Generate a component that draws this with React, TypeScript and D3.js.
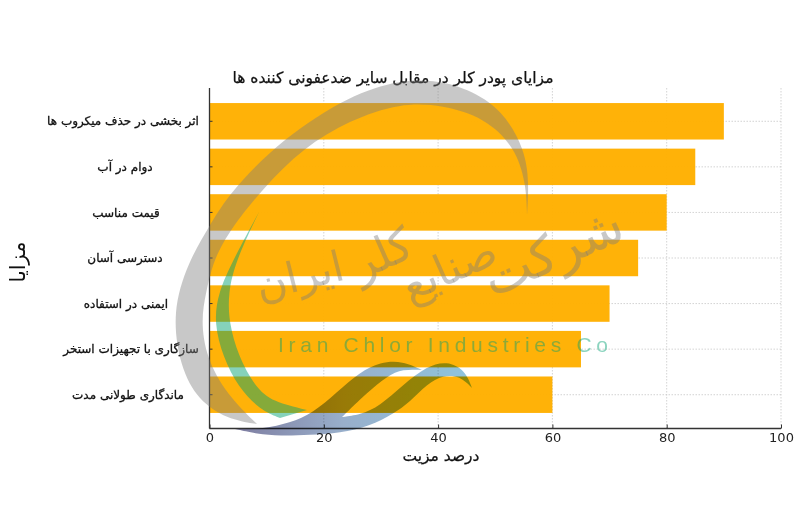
import { useEffect, useRef } from "react";
import * as d3 from "d3";

const categories = [
  "اثر بخشی در حذف میکروب ها",
  "دوام در آب",
  "قیمت مناسب",
  "دسترسی آسان",
  "ایمنی در استفاده",
  "سازگاری با تجهیزات استخر",
  "ماندگاری طولانی مدت",
];
const values = [90, 85, 80, 75, 70, 65, 60];
const xTicks = [0, 20, 40, 60, 80, 100];

const chartTitle = "مزایای پودر کلر در مقابل سایر ضدعفونی کننده ها";
const xTitle = "درصد مزیت";
const yTitle = "مزایا";
const watermarkLatin = "Iran Chlor Industries Co";

type Pt = [number, number];

// logo outlines (page pixels)
const greyOuter: Pt[] = [
  [527, 215], [529, 183], [525, 150], [503, 110], [467, 88], [433, 80], [400, 80], [350, 95],
  [283, 138], [230, 192], [210, 225], [188, 262], [172, 312], [180, 367], [198, 400], [227, 419], [257, 424],
];
const greyInner: Pt[] = [
  [257, 424], [227, 395], [206, 357], [201, 320], [206, 293], [212, 265], [226, 235], [263, 188],
  [303, 148], [350, 120], [400, 103], [443, 105], [485, 118], [515, 147], [526, 183], [527, 215],
];
const greenOuter: Pt[] = [
  [259, 212], [233, 260], [218, 293], [214, 323], [223, 357], [238, 387], [260, 410], [280, 418],
];
const greenInner: Pt[] = [
  [307, 410], [273, 402], [255, 387], [238, 355], [229, 323], [228, 293], [236, 260], [259, 212],
];
const waveATop: Pt[] = [
  [235, 429], [263, 429], [290, 423], [313, 413], [337, 392], [360, 372], [380, 362], [403, 361], [422, 370],
];
const waveABottom: Pt[] = [
  [422, 370], [403, 369], [387, 376], [367, 393], [347, 412], [342, 417],
];
const waveBTop: Pt[] = [
  [342, 417], [360, 415], [380, 406], [403, 385], [427, 366], [447, 361], [465, 370], [472, 388],
];
const waveBBottom: Pt[] = [
  [472, 388], [460, 376], [443, 375], [427, 384], [410, 402], [393, 414], [370, 426], [340, 433], [310, 435], [280, 436], [257, 434], [235, 429],
];

const sans = "'DejaVu Sans', sans-serif";

export default function App() {
  const svgRef = useRef<SVGSVGElement>(null);

  useEffect(() => {
    if (!svgRef.current) return;
    const svg = d3.select(svgRef.current);
    svg.selectAll("*").remove();

    const left = 209.5;
    const right = 781;
    const top = 88;
    const bottom = 428.5;
    const labelNudge = [-3, -1, 0, -1, 0, 5, 2];

    const x = d3.scaleLinear().domain([0, 100]).range([left, right]);
    const y = d3.scaleBand<string>().domain(categories).range([98.5, 417.5]).padding(0.2).paddingOuter(0.1);
    const yMid = (c: string) => (y(c) as number) + y.bandwidth() / 2;

    // Grid
    const grid = svg.append("g").attr("stroke", "#c8c8c8").attr("stroke-width", 0.8).attr("stroke-dasharray", "1.5 1.5");
    grid.selectAll("line.v").data(xTicks).enter().append("line")
      .attr("x1", (d) => x(d)).attr("x2", (d) => x(d)).attr("y1", top).attr("y2", bottom);
    grid.selectAll("line.h").data(categories).enter().append("line")
      .attr("x1", left).attr("x2", right).attr("y1", yMid).attr("y2", yMid);

    // Bars
    svg.append("g").selectAll("rect").data(categories).enter().append("rect")
      .attr("x", left)
      .attr("y", (c) => y(c) as number)
      .attr("width", (_, i) => x(values[i]) - left)
      .attr("height", y.bandwidth())
      .attr("fill", "#ffb000")
      .attr("fill-opacity", 0.97);

    // Axes
    const xAxis = svg.append("g").attr("transform", `translate(0,${bottom})`)
      .call(d3.axisBottom(x).tickValues(xTicks).tickSize(-4).tickPadding(4).tickFormat((d) => String(d)));
    xAxis.selectAll("text").attr("font-family", sans).attr("font-size", 13).attr("fill", "#222");
    xAxis.selectAll("line").attr("stroke", "#333").attr("stroke-width", 1);
    xAxis.select(".domain").attr("stroke", "#333").attr("stroke-width", 1.3).attr("d", `M${left},0H${right}`);

    const yAxis = svg.append("g").attr("transform", `translate(${left},0)`)
      .call(d3.axisLeft(y).tickSize(-3).tickFormat(() => ""));
    yAxis.selectAll("line").attr("stroke", "#333").attr("stroke-width", 1);
    yAxis.select(".domain").attr("stroke", "#333").attr("stroke-width", 1.3).attr("d", `M0,${top}V${bottom}`);

    // Category labels
    svg.append("g").selectAll("text").data(categories).enter().append("text")
      .attr("x", (_, i) => 126 + labelNudge[i])
      .attr("y", yMid)
      .attr("dy", "0.35em")
      .attr("text-anchor", "middle")
      .attr("direction", "rtl")
      .attr("font-family", sans)
      .attr("font-size", 12)
      .attr("fill", "#111")
      .attr("stroke", "#111")
      .attr("stroke-width", 0.3)
      .text((d) => d);

    svg.append("text").attr("x", 393).attr("y", 83).attr("text-anchor", "middle").attr("direction", "rtl")
      .attr("font-family", sans).attr("font-size", 15.5).attr("fill", "#111")
      .attr("stroke", "#111").attr("stroke-width", 0.25).text(chartTitle);
    svg.append("text").attr("x", 441).attr("y", 461).attr("text-anchor", "middle").attr("direction", "rtl")
      .attr("font-family", sans).attr("font-size", 15.5).attr("fill", "#111")
      .attr("stroke", "#111").attr("stroke-width", 0.25).text(xTitle);
    svg.append("text").attr("transform", "translate(25,262) rotate(-90)").attr("text-anchor", "middle").attr("direction", "rtl")
      .attr("font-family", sans).attr("font-size", 21).attr("fill", "#111").text(yTitle);

    // Watermark
    const defs = svg.append("defs");
    const grad = defs.append("linearGradient").attr("id", "waveFill")
      .attr("gradientUnits", "userSpaceOnUse").attr("x1", 240).attr("x2", 470).attr("y1", 0).attr("y2", 0);
    grad.append("stop").attr("offset", 0).attr("stop-color", "#6e6e96");
    grad.append("stop").attr("offset", 0.45).attr("stop-color", "#8aa4c4");
    grad.append("stop").attr("offset", 1).attr("stop-color", "#7fbcd8");

    const curve = d3.line<Pt>().curve(d3.curveBasis);
    const join = (...edges: Pt[][]) =>
      edges.map((e, i) => (i === 0 ? curve(e) : `L${(curve(e) as string).slice(1)}`)).join("") + "Z";
    const wm = svg.append("g");
    wm.append("path").attr("d", join(greyOuter, greyInner)).attr("fill", "#7c7c7c").attr("fill-opacity", 0.42);
    wm.append("path").attr("d", join(greenOuter, greenInner)).attr("fill", "#00a070").attr("fill-opacity", 0.48);
    wm.append("path").attr("d", join(waveATop, waveABottom, waveBTop, waveBBottom))
      .attr("fill", "url(#waveFill)").attr("fill-opacity", 0.88).style("mix-blend-mode", "multiply");

    const words = [
      { t: "شرکت", px: 560, py: 268, r: -24, s: 52 },
      { t: "صنایع", px: 455, py: 282, r: -24, s: 44 },
      { t: "کلر", px: 388, py: 268, r: -24, s: 46 },
      { t: "ایران", px: 303, py: 290, r: -14, s: 42 },
    ];
    wm.selectAll("text.fa").data(words).enter().append("text")
      .attr("transform", (d) => `translate(${d.px},${d.py}) rotate(${d.r})`)
      .attr("text-anchor", "middle").attr("direction", "rtl")
      .attr("font-family", sans).attr("font-size", (d) => d.s)
      .attr("fill", "#7c7c7c").attr("fill-opacity", 0.42).text((d) => d.t);

    wm.append("text").attr("x", 278).attr("y", 352)
      .attr("font-family", "'Liberation Sans', sans-serif").attr("font-size", 21)
      .attr("textLength", 330).attr("lengthAdjust", "spacing")
      .attr("fill", "#00a070").attr("fill-opacity", 0.45).text(watermarkLatin);
  }, []);

  return (
    <svg
      ref={svgRef}
      width={800}
      height={518}
      style={{ position: "absolute", left: 0, top: 0, background: "#fff" }}
      role="img"
      aria-label={chartTitle}
    />
  );
}
